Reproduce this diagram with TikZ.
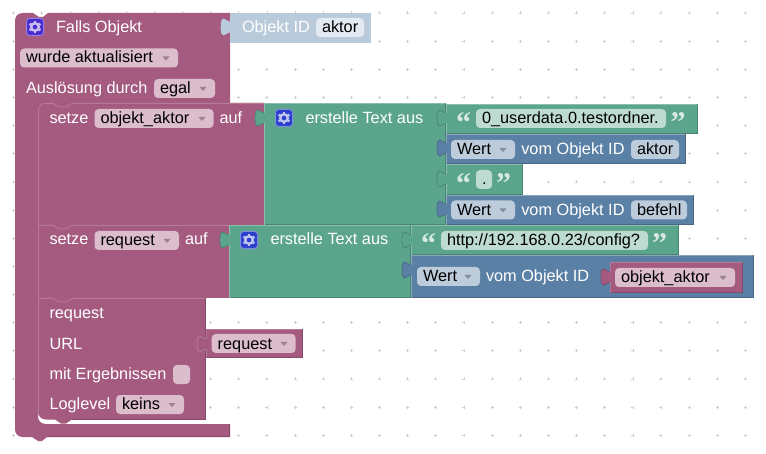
\documentclass[tikz,border=0pt]{standalone}
\usepackage{fontspec}
\setmainfont{Liberation Sans}
\newfontfamily\quotefont{Liberation Serif}
\definecolor{pk}{HTML}{A55B80}
\definecolor{pkd}{HTML}{84496B}
\definecolor{pkl}{HTML}{B67A98}
\definecolor{pkf}{HTML}{DBBDCC}
\definecolor{gr}{HTML}{5BA58C}
\definecolor{grd}{HTML}{498470}
\definecolor{grl}{HTML}{8CC0AE}
\definecolor{grf}{HTML}{BDDBD1}
\definecolor{bl}{HTML}{5B80A5}
\definecolor{bld}{HTML}{496684}
\definecolor{bll}{HTML}{8CA6C0}
\definecolor{blf}{HTML}{BDCCDB}
\definecolor{dis}{HTML}{B9CADB}
\definecolor{disf}{HTML}{E3EAF1}
\definecolor{dotc}{HTML}{CFCFCF}
\definecolor{icv}{HTML}{4A2BD0}
\definecolor{icb}{HTML}{2A3FCC}
\tikzset{
  lbl/.style={anchor=base west,inner sep=0pt,outer sep=0pt,text=white,font=\fontsize{16.3}{18}\selectfont},
  fldtext/.style={anchor=base west,inner sep=0pt,outer sep=0pt,text=black,font=\fontsize{16.3}{18}\selectfont},
  qmark/.style={anchor=base west,inner sep=0pt,outer sep=0pt,text=#1,font=\quotefont\bfseries\fontsize{30}{32}\selectfont}
}
\newcommand\blk[7]{% x1 y1 x2 y2 fill dark light
  \fill[#5] (#1,#2) rectangle (#3,#4);
  \draw[#6,line width=1pt] (#3-.5,#2) -- (#3-.5,#4-.5) -- (#1,#4-.5);
  \draw[#7,line width=.8pt] (#1+.4,#4) -- (#1+.4,#2+.4) -- (#3-1,#2+.4);
}
\newcommand\tabp[4]{% x y fill stroke
  \draw[fill=#3,draw=#4,line width=.7pt] (#1,#2+3) .. controls (#1-3,#2+3) and (#1-4,#2) .. (#1-6.5,#2)
    .. controls (#1-9,#2+1) and (#1-9,#2+5) .. (#1-9,#2+8)
    .. controls (#1-9,#2+11) and (#1-9,#2+15) .. (#1-6.5,#2+16)
    .. controls (#1-4,#2+16) and (#1-3,#2+13) .. (#1,#2+13);
  \fill[#3] (#1-1.5,#2+3.4) rectangle (#1+1.2,#2+12.6);
}
\newcommand\fld[8]{% name x1 x2 ytop fill textbaseline text arrowx (empty: none)
  \fill[#5,rounded corners=4pt] (#2,#4) rectangle (#3,#4+19);
  \node[fldtext] (#1) at (#2+6,#6) {\strut #7};
  \if\relax\detokenize{#8}\relax\else
    \fill[black,opacity=.3] (#8-3.5,#4+8) -- (#8+3.5,#4+8) -- (#8,#4+12) -- cycle;
  \fi
}
\newcommand\txt[4]{\node[lbl] (#1) at (#2,#3) {\strut #4};}
\newcommand\icon[4]{% name x y fill
  \node[draw=#4!60!white,fill=#4,rounded corners=3pt,line width=1pt,minimum width=17pt,minimum height=17pt,inner sep=0pt] (#1) at (#2+9,#3+9) {};
  \draw[#4!30!white,line width=2.4pt] (#1.center) circle (3.8pt);
  \foreach \a in {30,90,...,330}
    \draw[#4!30!white,line width=2.6pt] (#1.center) ++(\a:4.8pt) -- ++(\a:1.5pt);
}
\begin{document}
\begin{tikzpicture}[x=1pt,y=-1pt]
\useasboundingbox (0,0) rectangle (766,454);
% grid
\foreach \i in {0,...,26} \foreach \j in {0,...,15}
  \draw[dotc,line width=.6pt] (13.5+28.15*\i-1.5,13+28.15*\j) -- ++(3,0) (13.5+28.15*\i,13+28.15*\j-1.5) -- ++(0,3);
% main C block
\fill[pk] (15,21) .. controls (15,16) and (18,13) .. (23,13) -- (33,13) -- (39,17) -- (43,17) -- (48,13) -- (230,13) -- (230,103)
  -- (46,103) -- (46,111) -- (38,111) -- (38,416) .. controls (38,421) and (41,424) .. (46,424) -- (230,424) -- (230,437) -- (47,437) -- (42,441) -- (38,441) -- (32,437) -- (23,437)
  .. controls (18,437) and (15,434) .. (15,429) -- cycle;
\draw[pkd,line width=1pt] (229.5,424) -- (229.5,436.5) -- (47,436.5);
% setze 1
\fill[pk] (38,111) .. controls (38,106) and (41,103) .. (46,103) -- (264,103) -- (264,225) -- (38,225) -- cycle;
\draw[pkl,line width=.8pt] (38.4,225) -- (38.4,111) .. controls (38.4,106) and (41,103.4) .. (46,103.4) -- (53,103.4) -- (59,107) -- (66,107) -- (72,103.4) -- (264,103.4);
% setze 2
\fill[pk] (38,225) rectangle (229,298);
\draw[pkl,line width=.8pt] (38.4,298) -- (38.4,225.4) -- (53,225.4) -- (59,229) -- (66,229) -- (72,225.4) -- (229,225.4);
% request
\fill[pk] (38,298) -- (205.6,298) -- (205.6,419.5) -- (72,419.5) -- (66,423.5) -- (61,423.5) -- (55,419.5) -- (46,419.5) .. controls (41,419.5) and (38,416) .. (38,412) -- cycle;
\draw[pkl,line width=.8pt] (38.4,412) -- (38.4,298.4) -- (53,298.4) -- (59,302) -- (66,302) -- (72,298.4) -- (205,298.4);
\draw[pkd,line width=.8pt] (205.3,298) -- (205.3,419.2) -- (72,419.2);
% disabled object block
\fill[dis] (230,13) rectangle (371,43);
\tabp{230}{19}{dis}{dis}
% green blocks
\blk{264}{103}{446}{225}{gr}{grd}{grl}
\blk{229}{225}{411}{298}{gr}{grd}{grl}
\tabp{264}{110}{gr}{grd}
\tabp{229}{232}{gr}{grd}
% text and value blocks
\blk{446}{104}{697.5}{134}{gr}{grd}{grl}
\tabp{446}{110}{gr}{grd}
\blk{446}{134}{686}{164}{bl}{bld}{bll}
\tabp{446}{140}{bl}{bld}
\blk{446}{164}{523}{195}{gr}{grd}{grl}
\tabp{446}{171}{gr}{grd}
\blk{446}{195}{694}{225}{bl}{bld}{bll}
\tabp{446}{201}{bl}{bld}
\blk{411}{225}{679}{255}{gr}{grd}{grl}
\tabp{411}{232}{gr}{grd}
\blk{411}{255}{754}{298}{bl}{bld}{bll}
\tabp{411}{262}{bl}{bld}
\blk{610}{262}{742.5}{293}{pk}{pkd}{pkl}
\tabp{610}{269}{pk}{pkd}
\blk{206}{329}{302.5}{358}{pk}{pkd}{pkl}
\tabp{206}{336}{pk}{pkl}
% header
\icon{ic1}{26}{18}{icv}
\txt{t1}{56}{33}{Falls Objekt}
\txt{t2}{242}{33}{Objekt ID}
\fld{f1}{316}{364}{18}{disf}{33}{aktor}{}
\fld{f2}{20}{178}{48.5}{pkf}{63}{wurde aktualisiert}{166}
\txt{t3}{26}{94}{Auslösung durch}
\fld{f3}{154}{215}{79}{pkf}{94}{egal}{203}
% setze objekt_aktor
\txt{t4}{49.5}{124}{setze}
\fld{f4}{94.5}{213.5}{109}{pkf}{124}{objekt\_aktor}{202}
\txt{t5}{219.5}{124}{auf}
\icon{ic2}{275}{109}{icb}
\txt{t6}{305.5}{124}{erstelle Text aus}
\node[qmark=white!75!gr] (q1) at (456,133) {“};
\fld{f5}{476}{666}{109}{grf}{124}{0\_userdata.0.testordner.}{}
\node[qmark=white!75!gr] (q2) at (670.5,133) {”};
\fld{f6}{451}{515}{140}{blf}{155}{Wert}{503}
\txt{t7}{521.3}{155}{vom Objekt ID}
\fld{f7}{631}{679}{140}{blf}{155}{aktor}{}
\node[qmark=white!75!gr] (q3) at (456,194) {“};
\fld{f8}{476}{492}{170}{grf}{185}{.}{}
\node[qmark=white!75!gr] (q4) at (496,194) {”};
\fld{f9}{451}{515}{200.5}{blf}{215.5}{Wert}{503}
\txt{t8}{521.3}{215.5}{vom Objekt ID}
\fld{f10}{631}{687}{200.5}{blf}{215.5}{befehl}{}
% setze request
\txt{t9}{49.5}{245}{setze}
\fld{f11}{94.5}{179}{231}{pkf}{245.5}{request}{167}
\txt{t10}{185}{245}{auf}
\icon{ic3}{240}{231}{icb}
\txt{t11}{270.5}{245}{erstelle Text aus}
\node[qmark=white!75!gr] (q5) at (421,254) {“};
\fld{f12}{441}{648}{231}{grf}{246}{http://192.168.0.23/config?}{}
\node[qmark=white!75!gr] (q6) at (652,254) {”};
\fld{f13}{417}{480}{267}{blf}{281.5}{Wert}{468}
\txt{t12}{486}{281.5}{vom Objekt ID}
\fld{f14}{615}{735}{268}{pkf}{282.5}{objekt\_aktor}{723}
% request block
\txt{t13}{49.5}{319}{request}
\txt{t14}{49.5}{349}{URL}
\fld{f15}{211.7}{295.7}{334}{pkf}{349}{request}{284}
\txt{t15}{49.5}{379}{mit Ergebnissen}
\fill[pkf,rounded corners=4pt] (173,365) rectangle (190,384);
\txt{t16}{49.5}{409}{Loglevel}
\fld{f16}{116}{184}{395}{pkf}{409.5}{keins}{172}
\end{tikzpicture}
\end{document}
